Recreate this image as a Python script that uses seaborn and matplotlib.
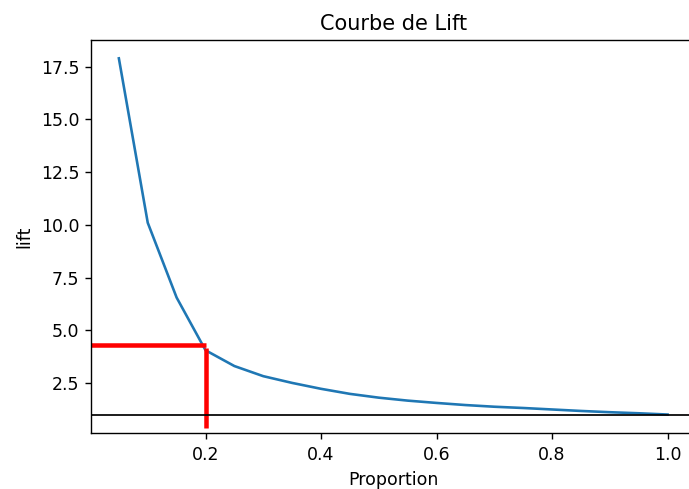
import matplotlib
matplotlib.use("Agg")
import matplotlib.pyplot as plt
import seaborn as sns
import pandas as pd

# Proportion of the population targeted and the corresponding lift
proportion = [0.05, 0.10, 0.15, 0.20, 0.25, 0.30, 0.35, 0.40, 0.45, 0.50,
              0.55, 0.60, 0.65, 0.70, 0.75, 0.80, 0.85, 0.90, 0.95, 1.00]
lift = [17.9, 10.1, 6.55, 4.05, 3.3, 2.82, 2.5, 2.22, 1.98, 1.8,
        1.66, 1.55, 1.45, 1.37, 1.31, 1.24, 1.17, 1.11, 1.06, 1.0]

# Chosen cut-off and its markers
seuil = 0.2
lift_seuil_h = 4.32
lift_seuil_v = 4.18
lift_bas = 0.36
lift_base = 1.0

df = pd.DataFrame({"Proportion": proportion, "lift": lift})

fig = plt.figure(figsize=(689 / 125, 489 / 125), dpi=125)
ax = fig.add_axes([0.1327, 0.1135, 0.876, 0.8047])

sns.lineplot(data=df, x="Proportion", y="lift", ax=ax, color="#1f77b4", linewidth=1.5)

ax.set_xlim(0.0025, 1.0475)
ax.set_ylim(0.1, 18.77)

x0 = ax.get_xlim()[0]
ax.plot([x0, seuil], [lift_seuil_h, lift_seuil_h], color="red", linewidth=2.6, solid_capstyle="butt")
ax.plot([seuil, seuil], [lift_bas, lift_seuil_v], color="red", linewidth=2.6, solid_capstyle="butt")
ax.axhline(lift_base, color="black", linewidth=1.0)

ax.spines["right"].set_visible(False)

ax.set_xticks([0.2, 0.4, 0.6, 0.8, 1.0])
ax.set_yticks([2.5, 5.0, 7.5, 10.0, 12.5, 15.0, 17.5])
ax.set_title("Courbe de Lift", fontsize=12)
ax.set_xlabel("Proportion", fontsize=10)
ax.set_ylabel("lift", fontsize=10)
ax.tick_params(labelsize=10)

fig.savefig("out.png", dpi=125)
